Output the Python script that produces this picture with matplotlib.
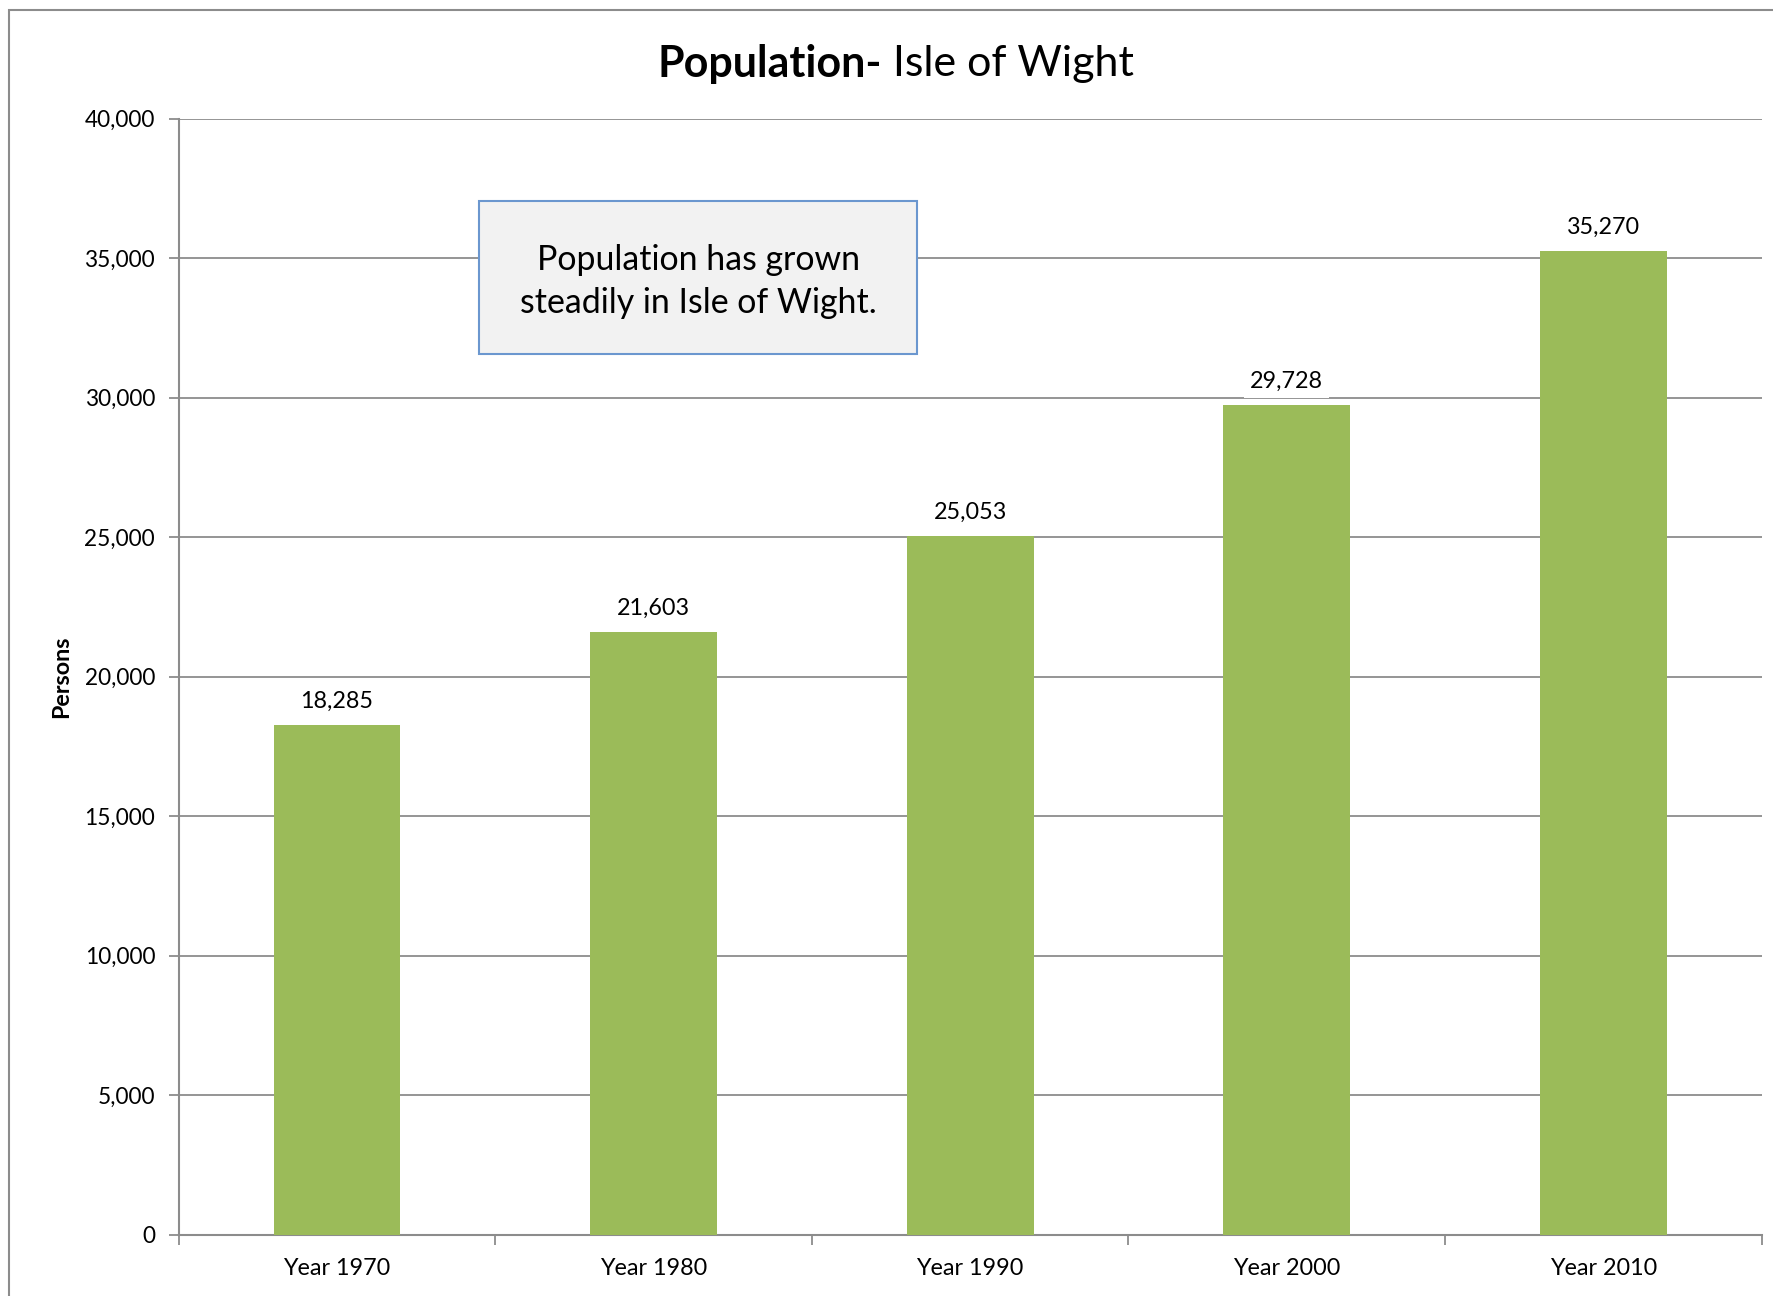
import matplotlib
matplotlib.use("Agg")
import matplotlib.pyplot as plt
from matplotlib.patches import Rectangle
from matplotlib.ticker import FuncFormatter

categories = ["Year 1970", "Year 1980", "Year 1990", "Year 2000", "Year 2010"]
values = [18285, 21603, 25053, 29728, 35270]
yticks = [0, 5000, 10000, 15000, 20000, 25000, 30000, 35000, 40000]

FONT = "Lato"
GRID = "#8c8c8c"
BAR = "#9BBB59"

fig = plt.figure(figsize=(17.73, 12.96), dpi=100)
ax = fig.add_axes([0.1008, 0.0473, 0.9936 - 0.1008, 0.9084 - 0.0473])

x = list(range(len(categories)))
ax.bar(x, values, width=0.4, color=BAR, zorder=3)

ax.set_xlim(-0.5, len(categories) - 0.5)
ax.set_ylim(0, 40000)
ax.set_yticks(yticks)
ax.yaxis.set_major_formatter(FuncFormatter(lambda v, p: f"{int(v):,}"))
ax.grid(axis="y", color=GRID, linewidth=1.3, zorder=0)

ax.set_xticks([i - 0.5 for i in range(len(categories) + 1)])
ax.set_xticklabels([])
ax.set_xticks(x, minor=True)
ax.set_xticklabels(categories, minor=True, fontsize=16.8, family=FONT)
ax.tick_params(axis="x", which="major", length=7, color=GRID, width=1.3, direction="out")
ax.tick_params(axis="x", which="minor", length=0, pad=17)
ax.tick_params(axis="y", length=7, color=GRID, width=1.3, pad=10, labelsize=16.3)
for lab in ax.get_yticklabels():
    lab.set_family(FONT)

for s in ["top", "right"]:
    ax.spines[s].set_visible(False)
for s in ["left", "bottom"]:
    ax.spines[s].set_color(GRID)
    ax.spines[s].set_linewidth(1.5)

for xi, v in zip(x, values):
    ax.annotate(f"{v:,}", (xi, v), xytext=(0, 17), textcoords="offset points",
                ha="center", va="center", fontsize=16.8, family=FONT, zorder=4,
                bbox=dict(boxstyle="square,pad=0.25", fc="white", ec="none"))

ax.set_ylabel("Persons", fontsize=16.8, fontweight="bold", family=FONT, labelpad=9)

# title
fig.text(0.4975, 0.951, "Population-", ha="right", va="center", fontsize=31,
         fontweight="bold", family=FONT)
fig.text(0.4975, 0.951, " Isle of Wight", ha="left", va="center", fontsize=31,
         family=FONT)

# annotation box
bx0, by0, bx1, by1 = 479.4 / 1773, 1 - 354 / 1296, 917 / 1773, 1 - 201 / 1296
fig.patches.append(Rectangle((bx0, by0), bx1 - bx0, by1 - by0, transform=fig.transFigure,
                             facecolor="#F2F2F2", edgecolor="#6B97CF", linewidth=1.5, zorder=5))
fig.text((bx0 + bx1) / 2, (by0 + by1) / 2 - 0.003, "Population has grown\nsteadily in Isle of Wight.",
         ha="center", va="center", fontsize=24.4, family=FONT, linespacing=1.42, zorder=6)

# outer chart border
fig.patches.append(Rectangle((9 / 1773, -0.1), 1.2, 1 - 10 / 1296 + 0.1, transform=fig.transFigure,
                             facecolor="none", edgecolor="#8c8c8c", linewidth=1.5, zorder=1))

fig.savefig("out.png", dpi=100)
